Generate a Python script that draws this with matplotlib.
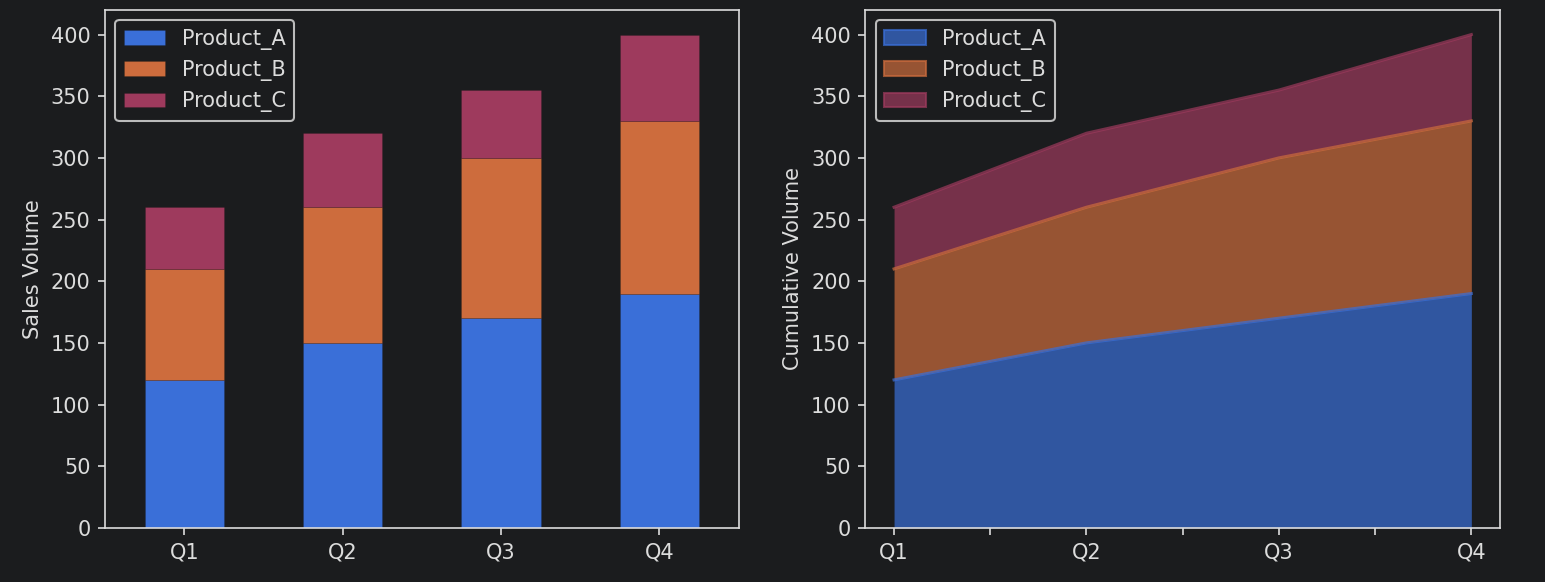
import matplotlib
matplotlib.use("Agg")
import matplotlib.pyplot as plt
from matplotlib.patches import Patch
import numpy as np

quarters = ["Q1", "Q2", "Q3", "Q4"]
products = ["Product_A", "Product_B", "Product_C"]
product_a = [120, 150, 170, 190]
product_b = [90, 110, 130, 140]
product_c = [50, 60, 55, 70]
colors = ["#3a6fd8", "#cd6c3d", "#9e3a5d"]

BG = "#1b1c1e"
FG = "#dcdcdc"

# reference looks like a 10pt figure saved at ~150 dpi, so scale sizes by 1.5
plt.rcParams.update({
    "font.family": "DejaVu Sans",
    "font.size": 15,
    "figure.facecolor": BG,
    "axes.facecolor": BG,
    "axes.edgecolor": FG,
    "axes.labelcolor": FG,
    "axes.labelpad": 6,
    "xtick.color": FG,
    "ytick.color": FG,
    "text.color": FG,
    "xtick.major.size": 5.2,
    "ytick.major.size": 5.2,
    "xtick.major.width": 1.2,
    "ytick.major.width": 1.2,
    "xtick.major.pad": 5.2,
    "ytick.major.pad": 5.2,
    "axes.linewidth": 1.2,
    "patch.linewidth": 1.5,
})

series = [product_a, product_b, product_c]
x = np.arange(len(quarters))

fig = plt.figure(figsize=(15.45, 5.82), dpi=100)
ax1 = fig.add_axes([0.068, 0.093, 0.41, 0.890])
ax2 = fig.add_axes([0.560, 0.093, 0.411, 0.890])

# stacked bars
bottom = np.zeros(len(quarters))
for name, vals, c in zip(products, series, colors):
    ax1.bar(x, vals, 0.5, bottom=bottom, color=c, label=name,
            edgecolor="#00000022", linewidth=0.6)
    bottom += np.array(vals)
ax1.set_xlim(-0.5, 3.5)
ax1.set_ylim(0, 420)
ax1.set_xticks(x)
ax1.set_xticklabels(quarters)
ax1.set_ylabel("Sales Volume")
leg1 = ax1.legend(loc="upper left", facecolor=BG, edgecolor="#bbbbbb",
                  framealpha=1)
for t in leg1.get_texts():
    t.set_color(FG)

# stacked area
lower = np.zeros(len(quarters))
handles = []
for name, vals, c in zip(products, series, colors):
    upper = lower + np.array(vals)
    ax2.fill_between(x, lower, upper, color=c, alpha=0.7, linewidth=0)
    ax2.plot(x, upper, color=c, alpha=0.7, linewidth=2.2)
    handles.append(Patch(facecolor=c, alpha=0.7, edgecolor=c, label=name))
    lower = upper
ax2.set_xlim(-0.15, 3.15)
ax2.set_ylim(0, 420)
ax2.set_xticks(np.arange(0, 3.01, 0.5))
ax2.set_xticklabels(["Q1", "", "Q2", "", "Q3", "", "Q4"])
ax2.set_ylabel("Cumulative Volume")
leg2 = ax2.legend(handles=handles, loc="upper left", facecolor=BG,
                  edgecolor="#bbbbbb", framealpha=1)
for t in leg2.get_texts():
    t.set_color(FG)

for ax in (ax1, ax2):
    ax.set_yticks(range(0, 401, 50))

fig.savefig("out.png", dpi=100, facecolor=BG)
